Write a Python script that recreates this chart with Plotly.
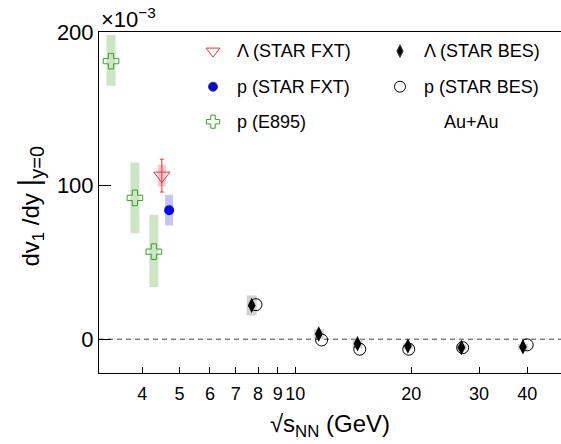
import numpy as np
import plotly.graph_objects as go

# ---------------- data (values in units of 1e-3) ----------------
e895_x = [3.32, 3.83, 4.29]
e895_y = [181, 92, 57]
e895_sys_up = [17, 23, 24]
e895_sys_dn = [16, 23, 23]

lam_fxt_x = [4.5]
lam_fxt_y = [106.5]
lam_fxt_stat = [10.7]
lam_fxt_sys = [7]

p_fxt_x = [4.7]
p_fxt_y = [84]
p_fxt_sys = [10]

lam_bes_x = [7.7, 11.5, 14.5, 19.6, 27, 39]
lam_bes_y = [22, 3.4, -3, -4.5, -5.4, -5]
lam_bes_sys = [6.5, 3, 3, 2, 2, 2]

p_bes_x = [7.9, 11.7, 14.7, 19.7, 27.2, 40]
p_bes_y = [22.5, -0.5, -6.5, -6.5, -5.5, -3.7]

x_tickvals = [4, 5, 6, 7, 8, 9, 10, 20, 30, 40]
x_ticktext = ["4", "5", "6", "7", "8", "9", "10", "20", "30", "40"]
y_tickvals = [0, 100, 200]
y_ticktext = ["0", "100", "200"]

x_range = [np.log10(3.09), np.log10(48.97)]
y_range = [-22, 200]

FONT = "Liberation Sans, Arial, Helvetica, sans-serif"

fig = go.Figure()

def sysbox(x, y, up, dn, color, width):
    fig.add_trace(go.Scatter(
        x=x, y=y, mode="markers",
        marker=dict(size=1, opacity=0),
        error_y=dict(type="data", symmetric=False, array=up, arrayminus=dn,
                     thickness=width, width=0, color=color),
        showlegend=False, hoverinfo="skip"))

# systematic boxes
sysbox(e895_x, e895_y, e895_sys_up, e895_sys_dn, "rgba(150,205,135,0.5)", 9)
sysbox(lam_fxt_x, lam_fxt_y, lam_fxt_sys, lam_fxt_sys, "rgba(245,150,160,0.55)", 8)
sysbox(p_fxt_x, p_fxt_y, p_fxt_sys, p_fxt_sys, "rgba(150,150,240,0.55)", 8)
sysbox(lam_bes_x, lam_bes_y, lam_bes_sys, lam_bes_sys, "rgba(180,180,180,0.6)", 10)

# markers
fig.add_trace(go.Scatter(
    x=e895_x, y=e895_y, mode="markers",
    marker=dict(symbol="cross-open", size=13, color="#3aa02a", line=dict(width=1)),
    showlegend=False))
fig.add_trace(go.Scatter(
    x=lam_fxt_x, y=lam_fxt_y, mode="markers",
    marker=dict(symbol="triangle-down-open", size=14, color="#f03030", line=dict(width=1)),
    error_y=dict(type="data", array=lam_fxt_stat, thickness=1, width=2, color="#f03030"),
    showlegend=False))
fig.add_trace(go.Scatter(
    x=p_fxt_x, y=p_fxt_y, mode="markers",
    marker=dict(symbol="circle", size=10, color="#0000ee"),
    showlegend=False))
fig.add_trace(go.Scatter(
    x=p_bes_x, y=p_bes_y, mode="markers",
    marker=dict(symbol="circle-open", size=12, color="black", line=dict(width=1)),
    showlegend=False))
fig.add_trace(go.Scatter(
    x=lam_bes_x, y=lam_bes_y, mode="markers",
    marker=dict(symbol="diamond-tall", size=11, color="black"),
    showlegend=False))

# legend markers (on an overlay unit axis)
leg_u = [0.2468, 0.2468, 0.2468, 0.6515, 0.6515]
leg_v = [0.944, 0.8396, 0.737, 0.944, 0.8396]
leg_sym = ["triangle-down-open", "circle", "cross-open", "diamond-tall", "circle-open"]
leg_col = ["#f03030", "#0000ee", "#3aa02a", "black", "black"]
leg_size = [12, 9, 11, 9, 11]
leg_text = ["Λ (STAR FXT)", "p (STAR FXT)", "p (E895)", "Λ (STAR BES)", "p (STAR BES)"]
for u, v, s, c, sz in zip(leg_u, leg_v, leg_sym, leg_col, leg_size):
    fig.add_trace(go.Scatter(x=[u], y=[v], xaxis="x3", yaxis="y3", mode="markers",
                             marker=dict(symbol=s, size=sz, color=c, line=dict(width=1)),
                             showlegend=False, hoverinfo="skip"))

annotations = []
for u, v, t in zip(leg_u, leg_v, leg_text):
    annotations.append(dict(x=u + 0.047, y=v, xref="paper", yref="paper", text=t,
                            showarrow=False, xanchor="left", yanchor="middle",
                            font=dict(size=18, family=FONT, color="black")))
annotations.append(dict(x=0.7418, y=0.737, xref="paper", yref="paper", text="Au+Au",
                        showarrow=False, xanchor="left", yanchor="middle",
                        font=dict(size=18, family=FONT, color="black")))
annotations.append(dict(x=0.0, y=1.0, xref="paper", yref="paper",
                        text="×10<sup>−3</sup>", showarrow=False,
                        xanchor="left", yanchor="bottom", yshift=-2,
                        font=dict(size=22, family=FONT, color="black")))
annotations.append(dict(x=-0.15, y=0.49, xref="paper", yref="paper",
                        text="dv<sub>1</sub> /dy <span style='font-size:30px'>|</span>"
                             "<sub><span style='font-size:20px'>y=0</span></sub>",
                        textangle=-90,
                        showarrow=False, xanchor="center", yanchor="middle",
                        font=dict(size=24, family=FONT, color="black")))

fig.update_layout(
    width=561, height=444,
    margin=dict(l=99, r=0, t=32, b=71),
    paper_bgcolor="white", plot_bgcolor="white",
    font=dict(family=FONT, color="black"),
    showlegend=False,
    xaxis=dict(type="log", range=x_range, tickmode="array", tickvals=x_tickvals,
               ticktext=x_ticktext, ticks="inside", ticklen=6, tickcolor="black",
               showline=True, linecolor="black", linewidth=1, mirror=True,
               showgrid=False, zeroline=False, tickfont=dict(size=18),
               ticklabelstandoff=4,
               title=dict(text="√s<sub>NN</sub> (GeV)", font=dict(size=24), standoff=12)),
    xaxis2=dict(type="log", range=x_range, overlaying="x", tickmode="array",
                tickvals=[10], ticks="inside", ticklen=11, tickcolor="black",
                showticklabels=False, showline=False, showgrid=False, zeroline=False),
    yaxis=dict(range=y_range, tickmode="array", tickvals=y_tickvals, ticktext=y_ticktext,
               ticks="inside", ticklen=12, tickcolor="black",
               showline=True, linecolor="black", linewidth=1, mirror=False,
               showgrid=False, zeroline=False, tickfont=dict(size=22)),
    xaxis3=dict(range=[0, 1], overlaying="x", visible=False),
    yaxis3=dict(range=[0, 1], overlaying="y", visible=False),
    shapes=[dict(type="line", xref="paper", yref="y", x0=0, x1=1, y0=0, y1=0,
                 line=dict(color="#444444", width=1, dash="5px,4px"), layer="below")],
    annotations=annotations,
)

fig.write_html("out.html")
